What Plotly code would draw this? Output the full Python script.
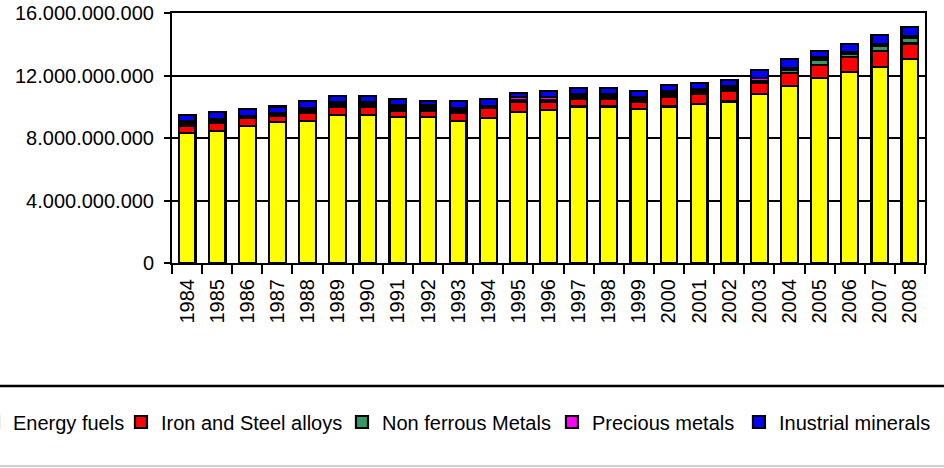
import plotly.graph_objects as go

years = [str(y) for y in range(1984, 2009)]

energy_fuels = [8.31e9, 8.46e9, 8.79e9, 9.01e9, 9.11e9, 9.48e9, 9.48e9, 9.33e9, 9.33e9, 9.11e9,
                9.30e9, 9.65e9, 9.80e9, 10.01e9, 10.01e9, 9.84e9, 10.01e9, 10.16e9, 10.33e9, 10.82e9,
                11.35e9, 11.86e9, 12.20e9, 12.56e9, 13.05e9]
iron_steel = [0.47e9, 0.49e9, 0.47e9, 0.43e9, 0.51e9, 0.49e9, 0.49e9, 0.43e9, 0.43e9, 0.51e9,
              0.64e9, 0.64e9, 0.49e9, 0.49e9, 0.49e9, 0.47e9, 0.64e9, 0.66e9, 0.68e9, 0.68e9,
              0.83e9, 0.81e9, 1.00e9, 1.00e9, 1.00e9]
non_ferrous = [0.14e9, 0.14e9, 0.08e9, 0.08e9, 0.14e9, 0.15e9, 0.15e9, 0.16e9, 0.16e9, 0.14e9,
               0.07e9, 0.16e9, 0.16e9, 0.15e9, 0.15e9, 0.15e9, 0.16e9, 0.15e9, 0.14e9, 0.16e9,
               0.16e9, 0.36e9, 0.16e9, 0.33e9, 0.36e9]
precious = [0.14e9, 0.14e9, 0.07e9, 0.07e9, 0.14e9, 0.15e9, 0.15e9, 0.16e9, 0.16e9, 0.14e9,
            0.06e9, 0.16e9, 0.16e9, 0.15e9, 0.15e9, 0.15e9, 0.16e9, 0.15e9, 0.14e9, 0.16e9,
            0.16e9, 0.13e9, 0.16e9, 0.12e9, 0.11e9]
industrial = [0.42e9, 0.44e9, 0.43e9, 0.42e9, 0.47e9, 0.42e9, 0.42e9, 0.44e9, 0.29e9, 0.47e9,
              0.45e9, 0.26e9, 0.40e9, 0.38e9, 0.38e9, 0.40e9, 0.41e9, 0.42e9, 0.41e9, 0.53e9,
              0.57e9, 0.40e9, 0.51e9, 0.58e9, 0.60e9]

series_names = ["Energy fuels", "Iron and Steel alloys", "Non ferrous Metals",
                "Precious metals", "Inustrial minerals"]
series_values = [energy_fuels, iron_steel, non_ferrous, precious, industrial]
series_colors = ["#FFFF00", "#FF0000", "#339966", "#FF00FF", "#0000FF"]
legend_ids = ["legend", "legend", "legend", "legend2", "legend2"]
legend_widths = [103, 176, 182, 142, 160]

y_tickvals = [0, 4e9, 8e9, 12e9, 16e9]
y_ticktext = ["0", "4.000.000.000", "8.000.000.000", "12.000.000.000", "16.000.000.000"]

FONT = "Arial, Liberation Sans, sans-serif"

fig = go.Figure()
for name, vals, col, lg, lw in zip(series_names, series_values, series_colors,
                                   legend_ids, legend_widths):
    fig.add_trace(go.Bar(
        x=years, y=vals, name=name, legend=lg,
        marker=dict(color=col, line=dict(color="black", width=2.2)),
        legendwidth=lw,
    ))

legend_common = dict(
    orientation="h", xanchor="left", y=-0.636, yanchor="middle",
    font=dict(size=20, family=FONT, color="black"),
    bgcolor="rgba(0,0,0,0)", itemwidth=30, traceorder="normal",
)

fig.update_layout(
    width=944, height=468,
    barmode="stack", bargap=0.445,
    plot_bgcolor="white", paper_bgcolor="white",
    margin=dict(l=172, r=19, t=13, b=205, autoexpand=False),
    font=dict(family=FONT, color="black"),
    showlegend=True,
    legend=dict(x=-0.2643, **legend_common),
    legend2=dict(x=0.5046, **legend_common),
    xaxis=dict(
        type="category", showline=True, linecolor="black", linewidth=2, mirror=True,
        ticks="outside", tickson="boundaries", ticklen=9, tickwidth=2, tickcolor="black",
        tickangle=-90, tickfont=dict(size=20, family=FONT, color="black"),
        showgrid=False, ticklabelstandoff=6,
    ),
    yaxis=dict(
        range=[0, 16e9], tickvals=y_tickvals, ticktext=y_ticktext,
        showline=True, linecolor="black", linewidth=2, mirror=True,
        ticks="outside", ticklen=6, tickwidth=2, tickcolor="black",
        tickfont=dict(size=20, family=FONT, color="black"),
        showgrid=True, gridcolor="black", gridwidth=2, zeroline=False,
        ticklabelstandoff=6,
    ),
    shapes=[
        dict(type="line", xref="paper", yref="paper", x0=-0.2284, x1=1.0252,
             y0=-0.492, y1=-0.492, line=dict(color="black", width=2.5)),
        dict(type="line", xref="paper", yref="paper", x0=-0.2284, x1=1.0252,
             y0=-0.812, y1=-0.812, line=dict(color="#d0d0d0", width=2)),
    ],
)

fig.write_html("out.html", config={"displayModeBar": False},
               post_script="document.body.style.margin='0';document.body.style.padding='0';")
